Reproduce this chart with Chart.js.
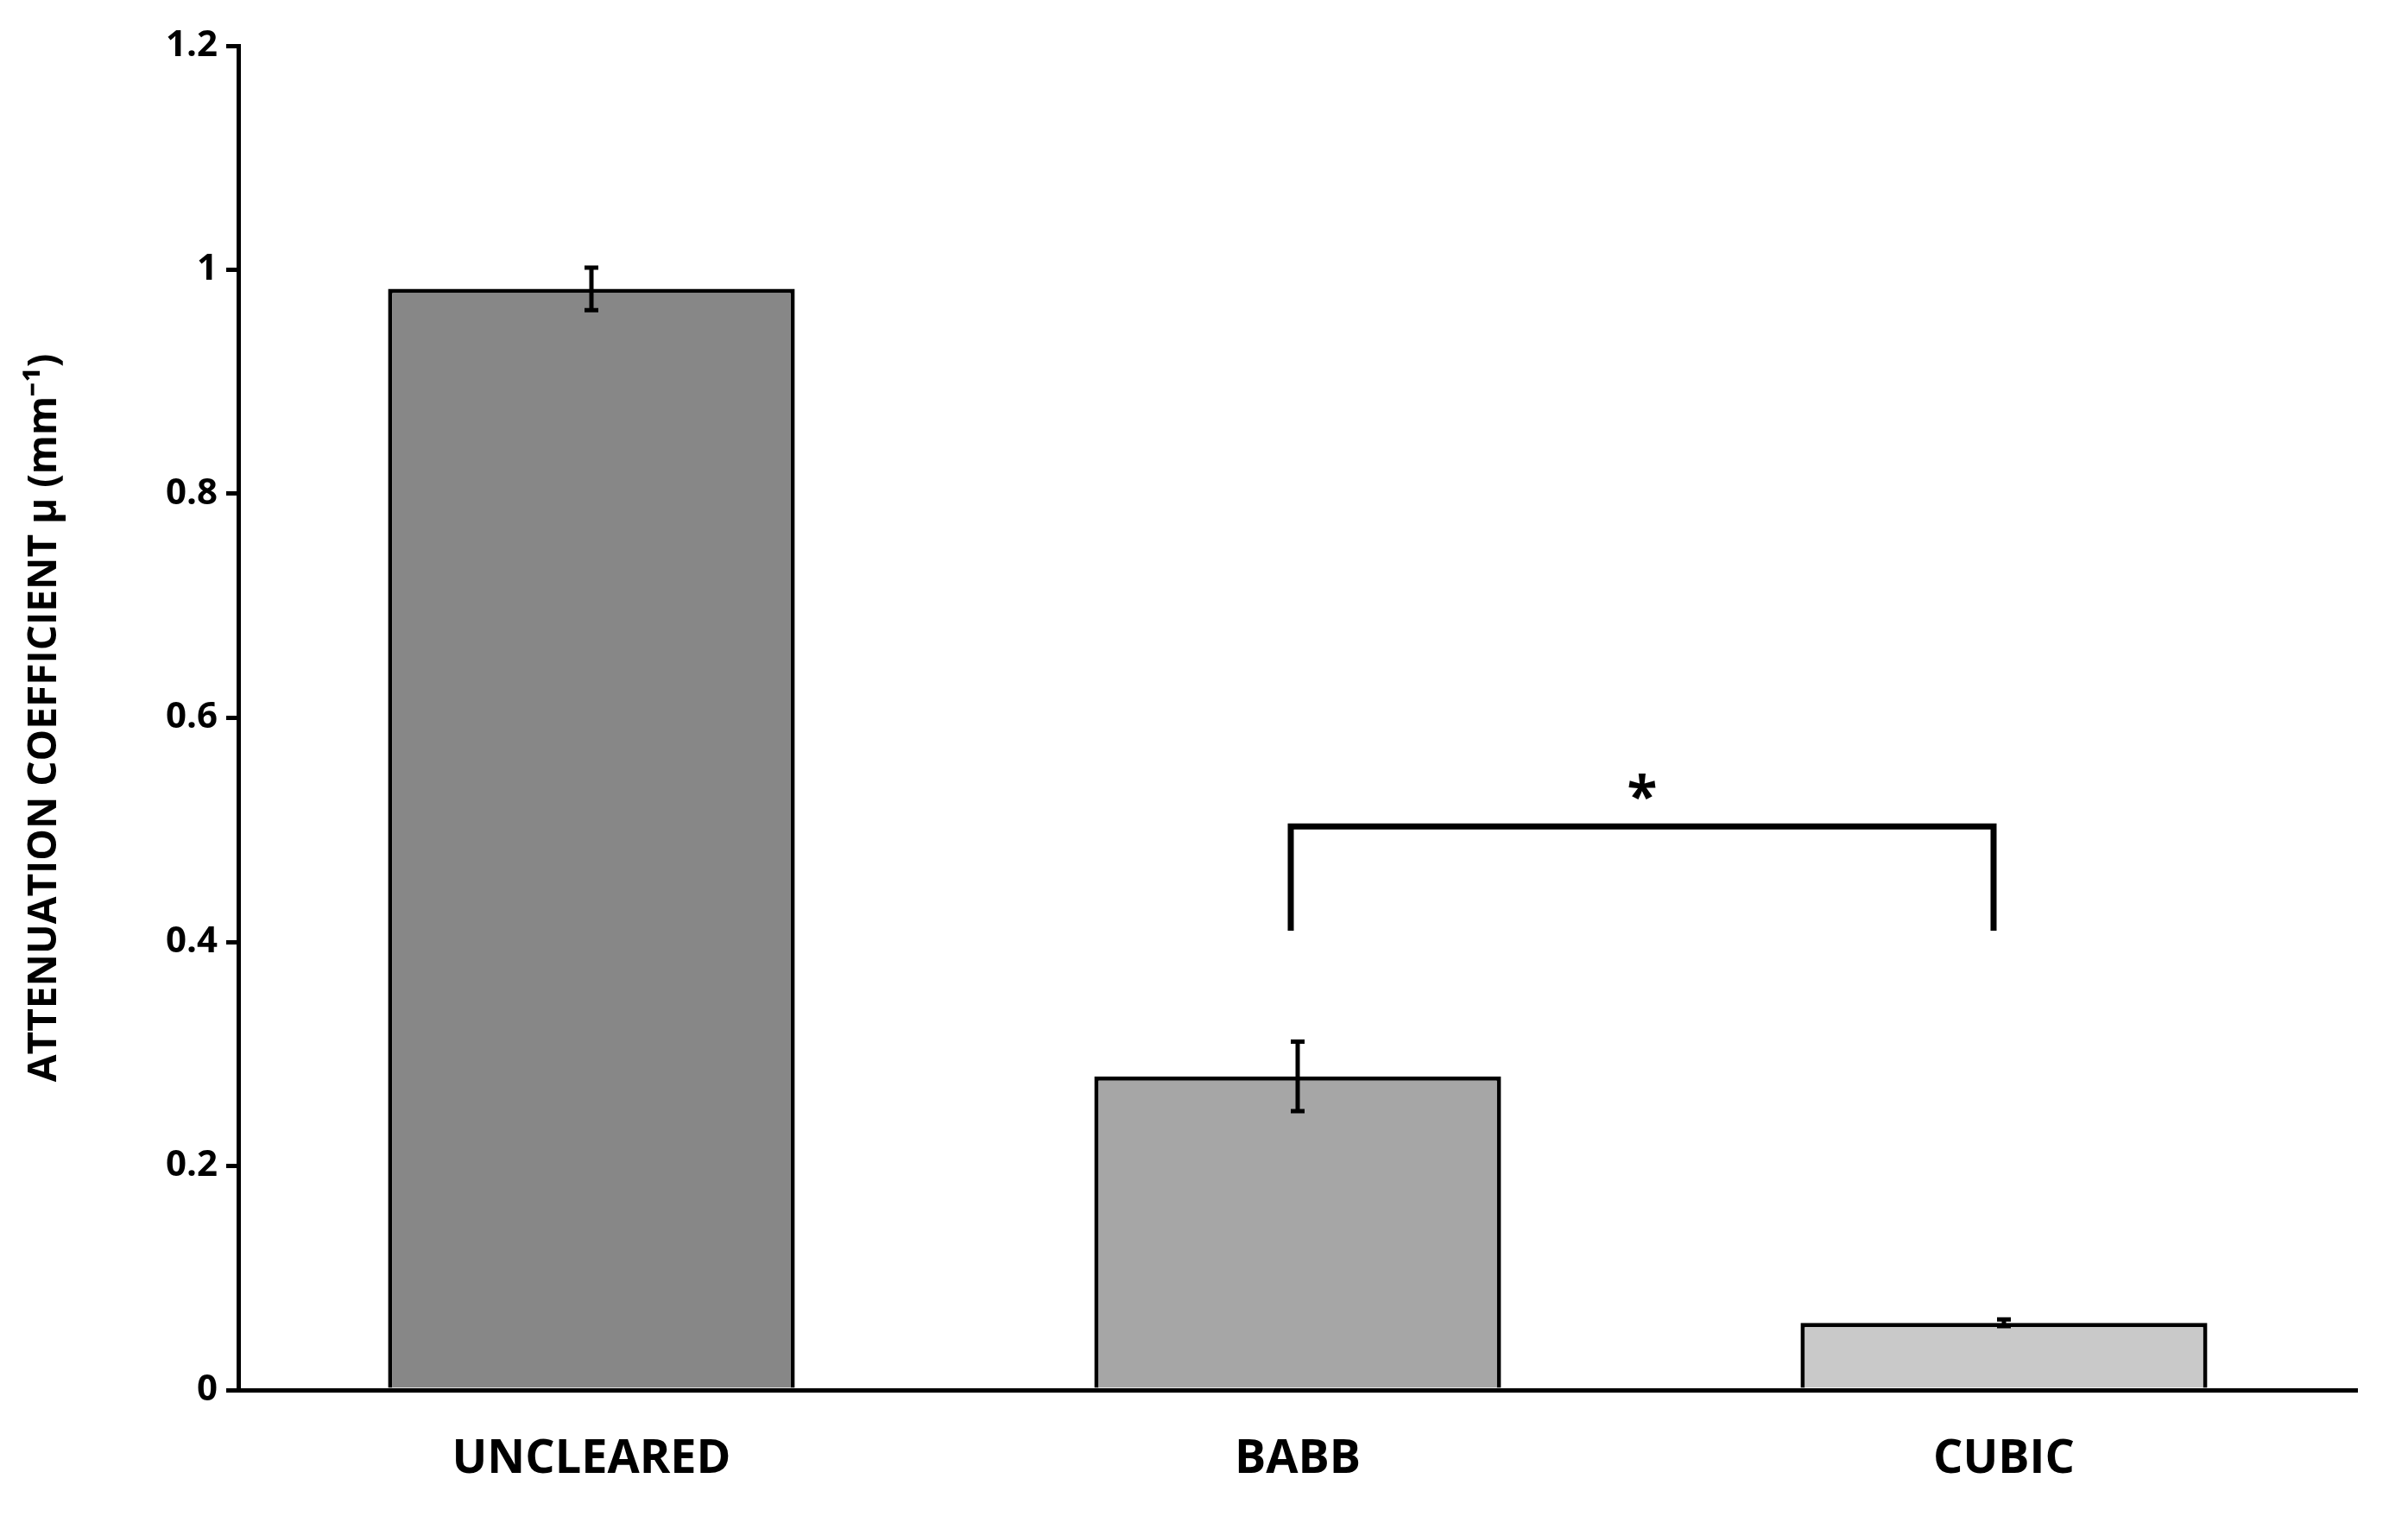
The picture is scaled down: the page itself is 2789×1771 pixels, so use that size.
<!DOCTYPE html>
<html><head><meta charset="utf-8">
<script src="https://cdn.jsdelivr.net/npm/chart.js@4"></script>
<style>html,body{margin:0;padding:0;background:#fff}#w{width:2789px;height:1771px}</style>
</head><body><div id="w"><canvas id="c"></canvas></div>
<script>
const categories = ["UNCLEARED", "BABB", "CUBIC"];
const values = [0.983, 0.28, 0.06];
const errors = [0.019, 0.031, 0.003];
const yTicks = [0, 0.2, 0.4, 0.6, 0.8, 1, 1.2];
const colors = ["#878787", "#a6a6a6", "#c9c9c9"];
const bracket = {from: 1, to: 2, y: 0.503, legY: 0.41, label: "*"};

const extras = {
  id: "extras",
  afterDatasetsDraw(chart) {
    const ctx = chart.ctx, x = chart.scales.x, y = chart.scales.y;
    ctx.save();
    ctx.strokeStyle = "#000"; ctx.lineWidth = 5;
    values.forEach((v, i) => {
      const cx = x.getPixelForValue(i), t = y.getPixelForValue(v + errors[i]), b = y.getPixelForValue(v - errors[i]);
      ctx.beginPath();
      ctx.moveTo(cx, t); ctx.lineTo(cx, b);
      ctx.moveTo(cx - 8, t); ctx.lineTo(cx + 8, t);
      ctx.moveTo(cx - 8, b); ctx.lineTo(cx + 8, b);
      ctx.stroke();
    });
    const x1 = x.getPixelForValue(bracket.from) - 8, x2 = x.getPixelForValue(bracket.to) - 12;
    const by = y.getPixelForValue(bracket.y), ly = y.getPixelForValue(bracket.legY);
    ctx.lineWidth = 7;
    ctx.beginPath();
    ctx.moveTo(x1, ly); ctx.lineTo(x1, by); ctx.lineTo(x2, by); ctx.lineTo(x2, ly);
    ctx.stroke();
    ctx.fillStyle = "#000";
    ctx.font = "bold 64px 'Open Sans'";
    ctx.textAlign = "center"; ctx.textBaseline = "alphabetic";
    ctx.fillText(bracket.label, (x1 + x2) / 2, by - 12);
    ctx.restore();
  }
};

new Chart(document.getElementById("c"), {
  type: "bar",
  data: { labels: categories, datasets: [{ data: values, backgroundColor: colors, borderColor: "#000", borderWidth: 5, barPercentage: 0.576, categoryPercentage: 1 }] },
  options: {
    responsive: true, maintainAspectRatio: false, animation: false,
    layout: { padding: { top: 53, right: 59, left: 20, bottom: 0 } },
    plugins: { legend: { display: false }, tooltip: { enabled: false } },
    scales: {
      x: {
        grid: { display: false },
        border: { color: "#000", width: 5 },
        ticks: { color: "#000", font: { family: "Open Sans", weight: "bold", size: 54 }, padding: 40 },
        afterFit(s) { s.height = 161; }
      },
      y: {
        min: 0, max: 1.2,
        afterBuildTicks(s) { s.ticks = yTicks.map(v => ({ value: v })); },
        grid: { drawOnChartArea: false, drawTicks: true, tickLength: 14, color: "#000", lineWidth: 5 },
        border: { color: "#000", width: 5 },
        ticks: { color: "#000", font: { family: "Open Sans", weight: "bold", size: 42 }, padding: 10,
          callback: v => String(v) },
        title: { display: true, text: "ATTENUATION COEFFICIENT μ (mm⁻¹)", color: "#000", font: { family: "Open Sans", weight: "bold", size: 46 }, padding: { bottom: 20 } },
        afterFit(s) { s.width = 256; }
      }
    }
  },
  plugins: [extras]
});
</script></body></html>
